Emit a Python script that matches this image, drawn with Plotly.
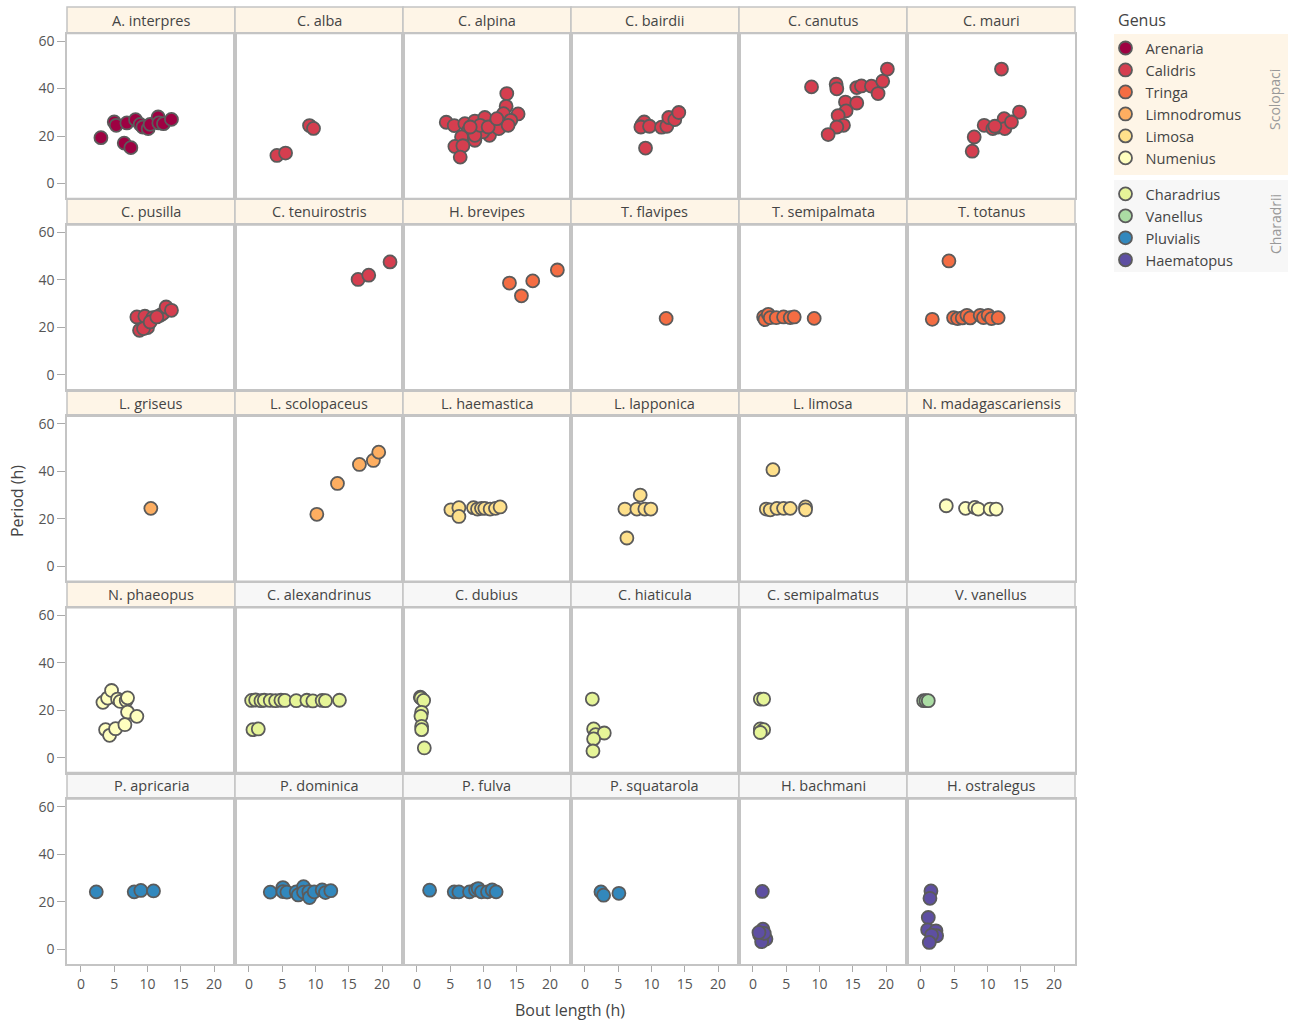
import plotly.graph_objects as go

# ---------------- data ----------------
genus_names = ["Arenaria", "Calidris", "Tringa", "Limnodromus", "Limosa", "Numenius",
               "Charadrius", "Vanellus", "Pluvialis", "Haematopus"]
genus_colors = ["#9E0142", "#D53E4F", "#F46D43", "#FDAE61", "#FEE08B", "#FFFFBF",
                "#E6F598", "#ABDDA4", "#3288BD", "#5E4FA2"]
genus_suborder = ["Scolopaci"] * 6 + ["Charadrii"] * 4

species_names = ["A. interpres", "C. alba", "C. alpina", "C. bairdii", "C. canutus", "C. mauri",
                 "C. pusilla", "C. tenuirostris", "H. brevipes", "T. flavipes", "T. semipalmata", "T. totanus",
                 "L. griseus", "L. scolopaceus", "L. haemastica", "L. lapponica", "L. limosa", "N. madagascariensis",
                 "N. phaeopus", "C. alexandrinus", "C. dubius", "C. hiaticula", "C. semipalmatus", "V. vanellus",
                 "P. apricaria", "P. dominica", "P. fulva", "P. squatarola", "H. bachmani", "H. ostralegus"]
species_genus = ["Arenaria", "Calidris", "Calidris", "Calidris", "Calidris", "Calidris",
                 "Calidris", "Calidris", "Tringa", "Tringa", "Tringa", "Tringa",
                 "Limnodromus", "Limnodromus", "Limosa", "Limosa", "Limosa", "Numenius",
                 "Numenius", "Charadrius", "Charadrius", "Charadrius", "Charadrius", "Vanellus",
                 "Pluvialis", "Pluvialis", "Pluvialis", "Pluvialis", "Haematopus", "Haematopus"]

a_interpres_x = [3.0, 5.0, 5.3, 6.9, 8.2, 8.9, 9.3, 10.1, 10.4, 11.6, 11.7, 12.4, 13.6, 6.5, 7.5]
a_interpres_y = [19.3, 25.9, 24.5, 25.5, 26.9, 24.9, 23.8, 23.1, 24.9, 28.0, 25.5, 25.2, 27.0, 17.0, 15.1]
c_alba_x = [4.2, 5.5, 9.1, 9.7]
c_alba_y = [11.8, 12.8, 24.4, 23.2]
c_alpina_x = [13.5, 13.4, 15.2, 4.4, 5.6, 7.2, 8.7, 10.2, 11.5, 12.6, 13.0, 14.1, 7.7, 8.7, 6.7,
              5.7, 6.9, 6.5, 10.9, 9.9, 8.7, 12.3, 9.5, 10.7, 8.0, 13.7, 12.0]
c_alpina_y = [37.9, 32.5, 29.3, 25.8, 24.4, 25.2, 26.3, 27.8, 24.4, 25.9, 29.4, 26.6, 22.1, 18.2, 19.6,
              15.6, 15.9, 11.1, 20.3, 21.7, 20.3, 23.1, 24.5, 23.8, 23.8, 24.5, 27.3]
c_bairdii_x = [8.6, 8.9, 8.4, 9.7, 11.5, 12.3, 12.6, 13.5, 14.1, 9.1]
c_bairdii_y = [24.9, 25.9, 23.8, 24.1, 23.7, 24.1, 27.8, 26.9, 29.9, 14.9]
c_canutus_x = [8.8, 12.5, 12.6, 15.6, 16.3, 17.8, 18.8, 19.5, 20.2, 13.9, 15.6, 14.0, 12.8, 13.6, 12.6, 11.3]
c_canutus_y = [40.7, 41.8, 39.9, 40.4, 41.1, 41.0, 37.9, 43.1, 48.2, 34.3, 33.9, 30.6, 28.6, 24.5, 23.8, 20.6]
c_mauri_x = [12.1, 14.8, 9.5, 10.8, 11.6, 12.5, 12.6, 13.6, 8.0, 7.7, 11.1]
c_mauri_y = [48.2, 30.1, 24.5, 23.1, 23.8, 27.3, 23.1, 25.9, 19.6, 13.6, 24.1]
c_pusilla_x = [8.8, 10.0, 8.4, 9.6, 10.8, 11.9, 12.3, 12.8, 13.6, 9.4, 10.4, 11.4]
c_pusilla_y = [18.8, 19.9, 24.4, 24.7, 24.1, 25.1, 25.8, 28.6, 27.2, 19.5, 22.3, 24.4]
c_tenuirostris_x = [16.4, 18.0, 21.2]
c_tenuirostris_y = [40.2, 42.0, 47.6]
h_brevipes_x = [13.9, 17.4, 15.7, 21.1]
h_brevipes_y = [38.7, 39.6, 33.3, 44.2]
t_flavipes_x = [12.2]
t_flavipes_y = [23.8]
t_semipalmata_x = [1.6, 1.8, 2.3, 2.6, 3.5, 4.6, 5.6, 6.2, 9.2]
t_semipalmata_y = [24.4, 23.3, 25.5, 24.1, 24.1, 24.4, 24.1, 24.4, 23.8]
t_totanus_x = [4.2, 1.7, 4.9, 5.5, 6.2, 6.9, 7.4, 8.9, 9.4, 10.1, 10.6, 11.6]
t_totanus_y = [48.0, 23.4, 24.1, 23.7, 24.0, 25.1, 24.0, 25.1, 24.1, 25.1, 23.7, 24.1]
l_griseus_x = [10.5]
l_griseus_y = [24.4]
l_scolopaceus_x = [10.2, 13.3, 16.6, 18.7, 19.5]
l_scolopaceus_y = [21.9, 34.9, 42.9, 44.6, 48.1]
l_haemastica_x = [5.1, 6.3, 6.3, 8.5, 9.1, 9.7, 10.2, 11.0, 11.8, 12.5]
l_haemastica_y = [23.8, 24.7, 21.0, 24.7, 24.1, 24.4, 24.4, 24.1, 24.4, 25.0]
l_lapponica_x = [6.0, 7.8, 8.3, 9.0, 9.9, 6.3]
l_lapponica_y = [24.1, 24.1, 30.0, 24.1, 24.1, 11.9]
l_limosa_x = [3.0, 2.0, 2.6, 3.6, 4.6, 5.6, 7.9, 7.9]
l_limosa_y = [40.7, 24.1, 23.8, 24.4, 24.4, 24.4, 25.0, 23.8]
n_madagascariensis_x = [3.8, 6.7, 8.1, 8.6, 10.4, 11.3]
n_madagascariensis_y = [25.5, 24.4, 24.8, 24.1, 24.1, 24.1]
n_phaeopus_x = [3.3, 4.0, 4.6, 5.5, 5.9, 6.8, 7.0, 7.0, 8.4, 3.7, 4.3, 5.2, 6.6]
n_phaeopus_y = [23.3, 25.1, 28.3, 24.7, 23.7, 24.1, 25.2, 19.2, 17.4, 11.8, 9.4, 12.2, 13.9]
c_alexandrinus_x = [0.4, 1.0, 1.8, 2.3, 3.2, 4.0, 4.8, 5.4, 7.1, 8.7, 9.6, 11.0, 11.5, 13.6, 0.6, 1.4]
c_alexandrinus_y = [24.1, 24.3, 24.0, 24.2, 24.1, 24.0, 24.2, 24.1, 24.0, 24.2, 23.9, 24.1, 24.0, 24.2, 11.8, 12.1]
c_dubius_x = [0.5, 0.6, 1.0, 0.7, 0.6, 0.7, 0.7, 1.1]
c_dubius_y = [25.5, 25.1, 24.1, 19.1, 17.4, 13.2, 11.8, 4.1]
c_hiaticula_x = [1.1, 1.3, 1.6, 2.9, 1.3, 1.2]
c_hiaticula_y = [24.7, 12.1, 9.7, 10.4, 7.9, 2.8]
c_semipalmatus_x = [1.1, 1.6, 1.1, 1.6, 1.1]
c_semipalmatus_y = [24.7, 24.7, 12.1, 11.8, 10.6]
v_vanellus_x = [0.4, 0.75, 1.1]
v_vanellus_y = [24.0, 24.0, 24.0]
p_apricaria_x = [2.3, 8.0, 9.0, 10.9]
p_apricaria_y = [24.1, 24.1, 24.7, 24.5]
p_dominica_x = [3.2, 5.1, 5.1, 5.7, 7.1, 7.4, 8.2, 8.2, 9.0, 9.1, 9.8, 11.0, 11.5, 12.3]
p_dominica_y = [24.0, 25.9, 24.2, 24.0, 24.1, 22.8, 26.3, 24.0, 24.2, 21.7, 24.1, 24.9, 23.8, 24.6]
p_fulva_x = [1.9, 5.6, 6.3, 7.9, 8.8, 9.2, 9.7, 10.6, 11.3, 11.9]
p_fulva_y = [24.8, 24.1, 24.1, 24.1, 24.9, 25.5, 24.1, 24.1, 24.9, 24.1]
p_squatarola_x = [2.4, 2.8, 5.1]
p_squatarola_y = [24.1, 22.7, 23.5]
h_bachmani_x = [1.4, 1.5, 1.0, 1.95, 1.3, 1.7, 0.9]
h_bachmani_y = [24.3, 8.4, 6.0, 4.2, 3.1, 6.6, 7.0]
h_ostralegus_x = [1.5, 1.35, 1.1, 1.0, 2.25, 2.35, 1.6, 1.25]
h_ostralegus_y = [24.5, 21.4, 13.3, 8.1, 7.7, 5.6, 5.9, 2.8]

x_ticks = [0, 5, 10, 15, 20]
y_ticks = [0, 20, 40, 60]

species_data = [
    (a_interpres_x, a_interpres_y), (c_alba_x, c_alba_y), (c_alpina_x, c_alpina_y),
    (c_bairdii_x, c_bairdii_y), (c_canutus_x, c_canutus_y), (c_mauri_x, c_mauri_y),
    (c_pusilla_x, c_pusilla_y), (c_tenuirostris_x, c_tenuirostris_y), (h_brevipes_x, h_brevipes_y),
    (t_flavipes_x, t_flavipes_y), (t_semipalmata_x, t_semipalmata_y), (t_totanus_x, t_totanus_y),
    (l_griseus_x, l_griseus_y), (l_scolopaceus_x, l_scolopaceus_y), (l_haemastica_x, l_haemastica_y),
    (l_lapponica_x, l_lapponica_y), (l_limosa_x, l_limosa_y), (n_madagascariensis_x, n_madagascariensis_y),
    (n_phaeopus_x, n_phaeopus_y), (c_alexandrinus_x, c_alexandrinus_y), (c_dubius_x, c_dubius_y),
    (c_hiaticula_x, c_hiaticula_y), (c_semipalmatus_x, c_semipalmatus_y), (v_vanellus_x, v_vanellus_y),
    (p_apricaria_x, p_apricaria_y), (p_dominica_x, p_dominica_y), (p_fulva_x, p_fulva_y),
    (p_squatarola_x, p_squatarola_y), (h_bachmani_x, h_bachmani_y), (h_ostralegus_x, h_ostralegus_y),
]

# ---------------- style ----------------
FONT = "Open Sans"
W, H = 1290, 1025
ML, MR, MT, MB = 67, 215, 7, 61
PW, PH = W - ML - MR, H - MT - MB
NCOL, NROW = 6, 5
STRIP = 26.5 / PH
BORDER = "#c4c4c4"
STRIP_FILL = {"Scolopaci": "#FEF5E7", "Charadrii": "#F7F7F7"}
X_RANGE = [-2.1, 23.15]
Y_RANGE = [-6.3, 63.2]

fig = go.Figure()
layout = {}
shown = set()
genus_index = {g: i for i, g in enumerate(genus_names)}
annotations = []
shapes = []

for i, (name, gen, (xs, ys)) in enumerate(zip(species_names, species_genus, species_data)):
    r, c = divmod(i, NCOL)
    n = i + 1
    gi = genus_index[gen]
    sub = genus_suborder[gi]
    xa = "x" if n == 1 else f"x{n}"
    ya = "y" if n == 1 else f"y{n}"
    fig.add_trace(go.Scatter(
        x=xs, y=ys, mode="markers", xaxis=xa, yaxis=ya,
        name=gen, legendgroup=sub, showlegend=gen not in shown,
        marker=dict(size=13, color=genus_colors[gi], line=dict(color="#5b5b5b", width=1.8)),
        hovertemplate=name + "<br>Bout length %{x} h<br>Period %{y} h<extra></extra>",
    ))
    shown.add(gen)
    y_top = 1 - r / NROW
    y_bot = 1 - (r + 1) / NROW
    x0, x1 = c / NCOL, (c + 1) / NCOL
    bottom_row = r == NROW - 1
    left_col = c == 0
    layout["xaxis" if n == 1 else f"xaxis{n}"] = dict(
        domain=[x0, x1], anchor=ya, range=X_RANGE, showgrid=False, zeroline=False,
        showline=True, mirror=True, linecolor=BORDER, linewidth=1.5, automargin=False,
        tickvals=x_ticks, ticks="outside" if bottom_row else "", ticklen=6, tickwidth=1.3,
        tickcolor="#aaaaaa", showticklabels=bottom_row,
        tickfont=dict(family=FONT, size=14, color="#555555"),
    )
    layout["yaxis" if n == 1 else f"yaxis{n}"] = dict(
        domain=[y_bot, y_top - STRIP], anchor=xa, range=Y_RANGE, showgrid=False, zeroline=False,
        showline=True, mirror=True, linecolor=BORDER, linewidth=1.5, automargin=False,
        tickvals=y_ticks, ticks="outside" if left_col else "", ticklen=8, tickwidth=1.3,
        tickcolor="#aaaaaa", showticklabels=left_col,
        tickfont=dict(family=FONT, size=14, color="#555555"),
    )
    shapes.append(dict(type="rect", xref="paper", yref="paper", x0=x0, x1=x1,
                       y0=y_top - STRIP, y1=y_top, fillcolor=STRIP_FILL[sub],
                       line=dict(color=BORDER, width=1.5), layer="below"))
    annotations.append(dict(text=name, xref="paper", yref="paper", x=(x0 + x1) / 2,
                            y=y_top - STRIP / 2, showarrow=False, xanchor="center", yanchor="middle",
                            font=dict(family=FONT, size=14.5, color="#444444")))

def px_to_paper_x(px):
    return (px - ML) / PW

def px_to_paper_y(py):
    return 1 - (py - MT) / PH

# legend group backgrounds
shapes.append(dict(type="rect", xref="paper", yref="paper",
                   x0=px_to_paper_x(1114), x1=px_to_paper_x(1288),
                   y0=px_to_paper_y(175), y1=px_to_paper_y(34),
                   fillcolor=STRIP_FILL["Scolopaci"], line=dict(width=0), layer="below"))
shapes.append(dict(type="rect", xref="paper", yref="paper",
                   x0=px_to_paper_x(1114), x1=px_to_paper_x(1288),
                   y0=px_to_paper_y(272), y1=px_to_paper_y(180),
                   fillcolor=STRIP_FILL["Charadrii"], line=dict(width=0), layer="below"))

def label(text, px, py, size, color, angle=0, xanchor="center"):
    annotations.append(dict(text=text, xref="paper", yref="paper",
                            x=px_to_paper_x(px), y=px_to_paper_y(py), textangle=angle,
                            xanchor=xanchor, yanchor="middle", showarrow=False,
                            font=dict(family=FONT, size=size, color=color)))

label("Genus", 1116, 20, 16, "#444444", xanchor="left")
label("Scolopaci", 1275, 100, 14, "#999999", -90)
label("Charadrii", 1275, 224, 14, "#999999", -90)
label("Period (h)", 17, 501, 16, "#444444", -90)
label("Bout length (h)", 570, 1010, 16, "#444444")

fig.update_layout(
    **layout,
    template="none",
    width=W, height=H,
    margin=dict(l=ML, r=MR, t=MT, b=MB, pad=0),
    paper_bgcolor="white", plot_bgcolor="white",
    font=dict(family=FONT, color="#444444"),
    shapes=shapes, annotations=annotations,
    legend=dict(
        x=px_to_paper_x(1105.5), xanchor="left", y=px_to_paper_y(32), yanchor="top",
        bgcolor="rgba(0,0,0,0)", borderwidth=0, traceorder="grouped", tracegroupgap=14,
        font=dict(family=FONT, size=14.6, color="#444444"),
    ),
)

fig.write_html("out.html", config={"displayModeBar": False},
               post_script="document.body.style.margin='0';document.body.style.overflow='hidden';")
